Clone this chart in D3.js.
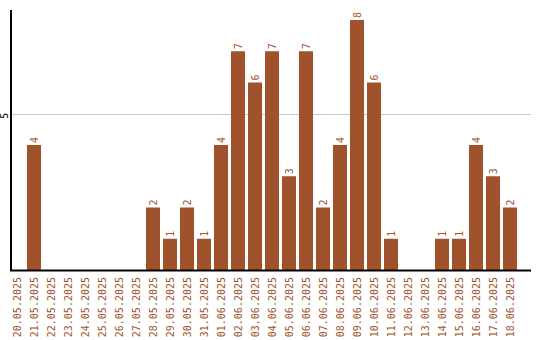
<!DOCTYPE html>
<html>
<head>
<meta charset="utf-8">
<script src="https://cdn.jsdelivr.net/npm/d3@7"></script>
<style>
  body { margin: 0; background: #fff; }
  text { font-family: "DejaVu Sans Mono", monospace; font-size: 10px; }
</style>
</head>
<body>
<script>
// chart data
const dates = ["20.05.2025", "21.05.2025", "22.05.2025", "23.05.2025", "24.05.2025",
    "25.05.2025", "26.05.2025", "27.05.2025", "28.05.2025", "29.05.2025",
    "30.05.2025", "31.05.2025", "01.06.2025", "02.06.2025", "03.06.2025",
    "04.06.2025", "05.06.2025", "06.06.2025", "07.06.2025", "08.06.2025",
    "09.06.2025", "10.06.2025", "11.06.2025", "12.06.2025", "13.06.2025",
    "14.06.2025", "15.06.2025", "16.06.2025", "17.06.2025", "18.06.2025"];
const counts = [0, 4, 0, 0, 0, 0, 0, 0, 2, 1,
    2, 1, 4, 7, 6, 7, 3, 7, 2, 4,
    8, 6, 1, 0, 0, 1, 1, 4, 3, 2];
const yTicks = [5];

const width = 540, height = 340;
const plotLeft = 10, plotTop = 10, baseline = 270, axisRight = 531;
const colour = "#a0522d";

const data = dates.map((d, i) => ({ date: d, value: counts[i] }));

const svg = d3.select("body")
    .append("svg")
    .attr("width", width)
    .attr("height", height);

// scales: step 17, bar 14
const x = d3.scaleBand()
    .domain(dates)
    .range([plotLeft, plotLeft + 17 * dates.length])
    .paddingInner(3 / 17)
    .paddingOuter(1.5 / 17)
    .align(0);
const y = d3.scaleLinear()
    .domain([0, 8.32])
    .range([baseline, plotTop]);

// grid line
svg.selectAll("line.grid")
    .data(yTicks)
    .enter()
    .append("line")
    .attr("class", "grid")
    .attr("x1", plotLeft).attr("x2", axisRight)
    .attr("y1", (d) => Math.round(y(d)) + 0.5)
    .attr("y2", (d) => Math.round(y(d)) + 0.5)
    .attr("stroke", "#c8c8c8")
    .attr("stroke-width", 1);

// y tick labels
svg.selectAll("text.ytick")
    .data(yTicks)
    .enter()
    .append("text")
    .attr("class", "ytick")
    .attr("transform", (d) => `translate(4, ${y(d) + 2}) rotate(-90)`)
    .attr("text-anchor", "middle")
    .attr("dy", "0.35em")
    .attr("fill", "#000")
    .text((d) => d);

// bars
svg.selectAll("rect.bar")
    .data(data.filter((d) => d.value > 0))
    .enter()
    .append("rect")
    .attr("class", "bar")
    .attr("x", (d) => x(d.date))
    .attr("y", (d) => y(d.value))
    .attr("width", x.bandwidth())
    .attr("height", (d) => baseline - y(d.value))
    .attr("fill", colour);

// value labels
svg.selectAll("text.value")
    .data(data.filter((d) => d.value > 0))
    .enter()
    .append("text")
    .attr("class", "value")
    .attr("transform", (d) => `translate(${x(d.date) + x.bandwidth() / 2}, ${y(d.value) - 2}) rotate(-90)`)
    .attr("text-anchor", "start")
    .attr("dy", "0.35em")
    .attr("fill", colour)
    .text((d) => d.value);

// date labels
svg.selectAll("text.date")
    .data(dates)
    .enter()
    .append("text")
    .attr("class", "date")
    .attr("transform", (d) => `translate(${x(d) + x.bandwidth() / 2}, ${baseline + 7}) rotate(-90)`)
    .attr("text-anchor", "end")
    .attr("dy", "0.35em")
    .attr("fill", colour)
    .text((d) => d);

// axes lines
svg.append("line")
    .attr("x1", plotLeft + 1).attr("x2", plotLeft + 1)
    .attr("y1", plotTop).attr("y2", baseline + 1)
    .attr("stroke", "#000")
    .attr("stroke-width", 2);
svg.append("line")
    .attr("x1", plotLeft).attr("x2", axisRight)
    .attr("y1", baseline + 0.5).attr("y2", baseline + 0.5)
    .attr("stroke", "#000")
    .attr("stroke-width", 2);
</script>
</body>
</html>
